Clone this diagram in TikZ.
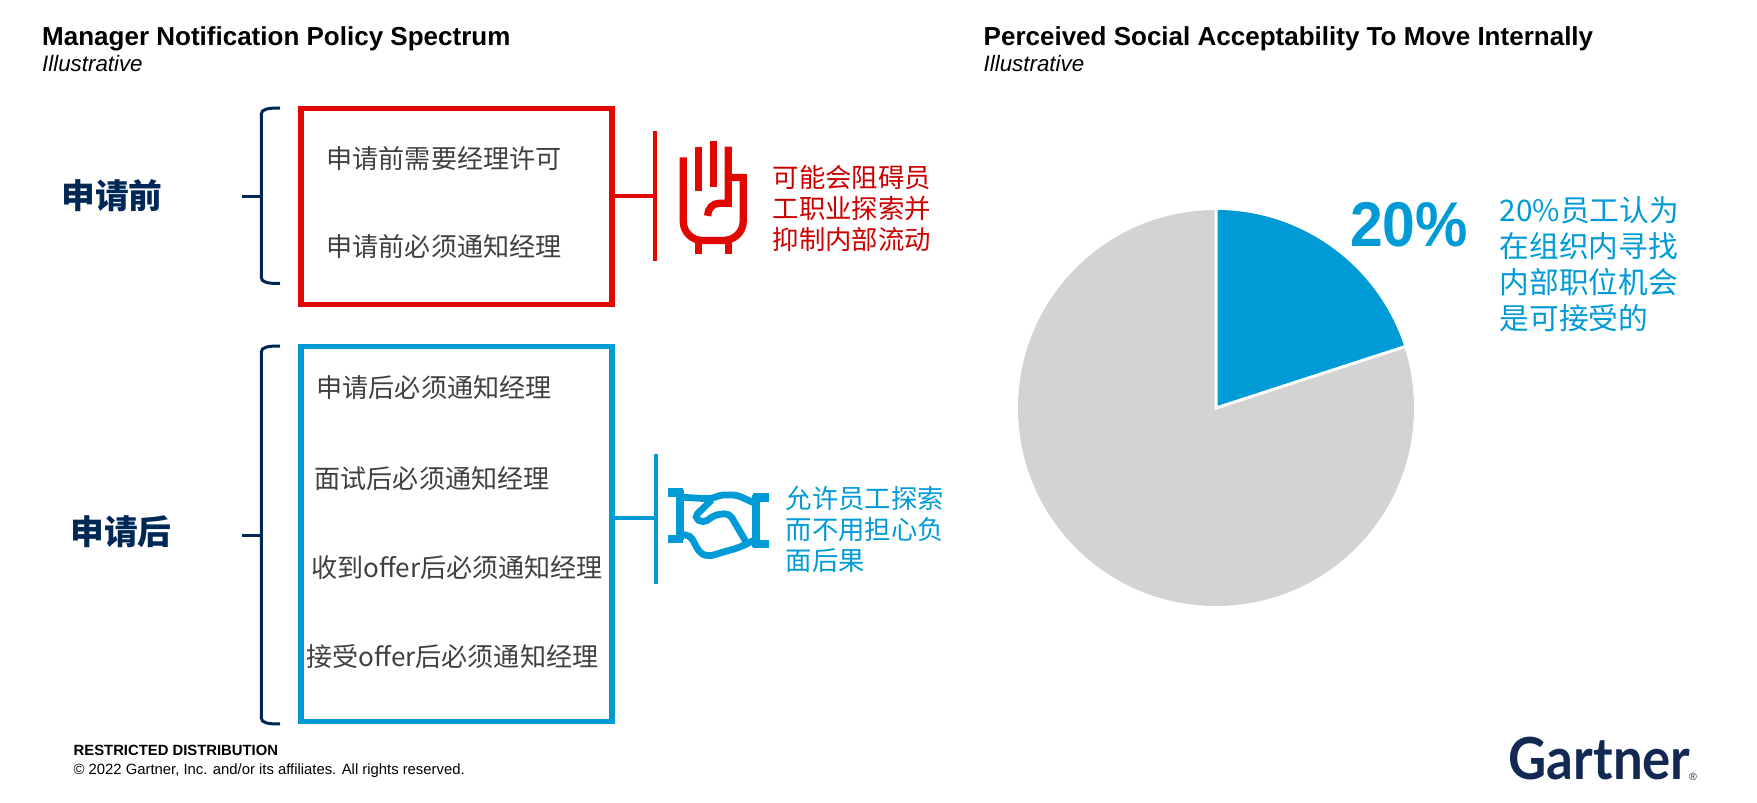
\documentclass[tikz,border=0pt]{standalone}
\usepackage{fontspec}
\setmainfont{Liberation Sans}
\newfontfamily\cjk{Noto Sans CJK SC}
\newfontfamily\logofont{Lato}
\usetikzlibrary{positioning}
\definecolor{navyline}{RGB}{0,40,86}
\definecolor{logonavy}{RGB}{20,40,84}
\definecolor{alertred}{RGB}{224,8,0}
\definecolor{alerttext}{RGB}{204,0,0}
\definecolor{gartblue}{RGB}{0,155,215}
\definecolor{piegray}{RGB}{211,211,211}
\definecolor{itemgray}{RGB}{64,64,64}
\tikzset{
	heading/.style={anchor=west,inner sep=0pt,font=\bfseries\fontsize{7.4}{9}\selectfont},
	subheading/.style={anchor=west,inner sep=0pt,font=\itshape\fontsize{6.35}{7}\selectfont},
	phase/.style={text=navyline,inner sep=0pt,font=\cjk\bfseries\fontsize{9.6}{11}\selectfont},
	itemtext/.style={anchor=west,inner sep=0pt,text=itemgray,font=\cjk\fontsize{7.42}{9}\selectfont},
	sidetext/.style={anchor=west,inner sep=0pt,align=left,font=\cjk\fontsize{7.5}{8.8}\selectfont},
	policybox/.style={draw,line width=0.053cm,minimum width=3.11cm,inner sep=0pt},
	link/.style={line width=0.045cm},
	bracket/.style={navyline,line width=0.03cm},
	footnote/.style={anchor=west,inner sep=0pt,font=\fontsize{4.22}{5}\selectfont},
}
\begin{document}
\begin{tikzpicture}
	\useasboundingbox (0,0) rectangle (17.57,8.02);

	% Titles
	\node[heading] (titleleft) at (0.415,7.63) {Manager Notification Policy Spectrum};
	\node[subheading] (subleft) at (0.415,7.38) {Illustrative};
	\node[heading] (titleright) at (9.83,7.63) {Perceived Social Acceptability To Move Internally};
	\node[subheading] (subright) at (9.83,7.38) {Illustrative};

	% Phases
	\node[phase] (prephase) at (1.12,6.06) {申请前};
	\node[phase] (postphase) at (1.21,2.70) {申请后};

	% Brackets
	\foreach \top/\mid/\bot in {6.94/6.053/5.185, 4.56/2.66/0.78} {
		\draw[bracket] (2.80,\top) .. controls (2.68,\top) and (2.613,\top-0.01) .. (2.613,\top-0.06)
			-- (2.613,\bot+0.06) .. controls (2.613,\bot+0.01) and (2.68,\bot) .. (2.80,\bot);
		\draw[bracket] (2.42,\mid) -- (2.613,\mid);
	}

	% Policy boxes
	\node[policybox,alertred,minimum height=1.96cm] (prebox) at (4.565,5.954) {};
	\node[policybox,gartblue,minimum height=3.75cm] (postbox) at (4.565,2.68) {};

	\node[itemtext] (preone) at (3.26,6.43) {申请前需要经理许可};
	\node[itemtext] (pretwo) at (3.26,5.555) {申请前必须通知经理};
	\node[itemtext] (postone) at (3.16,4.14) {申请后必须通知经理};
	\node[itemtext] (posttwo) at (3.14,3.235) {面试后必须通知经理};
	\node[itemtext] (postthree) at (3.105,2.34) {收到offer后必须通知经理};
	\node[itemtext] (postfour) at (3.06,1.45) {接受offer后必须通知经理};

	% Connectors
	\coordinate (prebartop) at (6.55,6.71);
	\coordinate (prebarbot) at (6.55,5.41);
	\coordinate (prejoin) at (6.55,6.06);
	\draw[link,alertred] (prebartop) -- (prebarbot);
	\draw[link,alertred] (prebox.east |- prejoin) -- (prejoin);

	\coordinate (postbartop) at (6.56,3.48);
	\coordinate (postbarbot) at (6.56,2.18);
	\coordinate (postjoin) at (6.56,2.84);
	\draw[link,gartblue] (postbartop) -- (postbarbot);
	\draw[link,gartblue] (postbox.east |- postjoin) -- (postjoin);

	% Hand icon
	\begin{scope}[shift={(6.4,6.92)},x=0.0333mm,y=-0.0333mm,alertred,line width=0.073cm]
		\draw (175,110) -- (175,242);
		\draw (220,92) -- (220,230);
		\draw (265,110) -- (265,280) -- (238,280) arc (270:180:35 and 38);
		\draw (130,142) -- (130,335) arc (180:90:58 and 57) -- (250,392) arc (90:0:60 and 57) -- (310,203) -- (265,203);
		\draw (175,392) -- (175,432);
		\draw (265,392) -- (265,432);
	\end{scope}

	% Handshake icon
	\begin{scope}[shift={(6.4,3.62)},x=0.0333mm,y=-0.0333mm,gartblue,line width=0.068cm,rounded corners=0.05cm]
		\draw[line width=0.085cm,sharp corners] (85,157) -- (130,157);
		\draw[line width=0.085cm,sharp corners] (85,297) -- (130,297);
		\draw[line width=0.08cm,sharp corners] (119,150) -- (119,300);
		\draw[line width=0.085cm,sharp corners] (340,172) -- (387,172);
		\draw[line width=0.085cm,sharp corners] (340,312) -- (387,312);
		\draw[line width=0.075cm,sharp corners] (348,165) -- (348,320);
		\draw (125,172) -- (215,177) -- (240,165) -- (290,165) -- (345,190);
		\draw (215,180) -- (162,232) -- (190,250) -- (225,225) -- (268,220) -- (322,312);
		\draw (125,285) -- (150,285) -- (180,340) -- (205,350) -- (300,322) -- (345,300);
	\end{scope}

	% Side notes
	\node[sidetext,text=alerttext] (prenote) at (7.72,5.935) {可能会阻碍员\\工职业探索并\\抑制内部流动};
	\node[sidetext,text=gartblue] (postnote) at (7.85,2.73) {允许员工探索\\而不用担心负\\面后果};

	% Pie
	\coordinate (piecenter) at (12.16,3.94);
	\fill[piegray] (piecenter) circle (1.98);
	\fill[gartblue] (piecenter) -- ++(90:1.98) arc (90:18:1.98) -- cycle;
	\draw[white,line width=0.03cm] (piecenter) ++(90:1.98) -- (piecenter) -- ++(18:1.98);

	\node[inner sep=0pt,xscale=0.93,text=gartblue,font=\bfseries\fontsize{18}{20}\selectfont] (share) at (14.09,5.77) {20\%};
	\node[anchor=west,inner sep=0pt,align=left,text=gartblue,font=\cjk\fontsize{8.45}{10.2}\selectfont] (sharenote) at (14.99,5.38) {20\%员工认为\\在组织内寻找\\内部职位机会\\是可接受的};

	% Footer
	\node[footnote,font=\bfseries\fontsize{4.22}{5}\selectfont] (restricted) at (0.73,0.52) {RESTRICTED DISTRIBUTION};
	\node[footnote] (copyright) at (0.73,0.31) {© 2022 Gartner, Inc. and/or its affiliates. All rights reserved.};
	\node[anchor=west,inner sep=0pt,xscale=0.91,text=logonavy,font=\logofont\bfseries\fontsize{16.5}{20}\selectfont] (logo) at (15.08,0.43) {Gartner};
	\node[inner sep=0pt,text=logonavy,font=\fontsize{3}{4}\selectfont] (logomark) at (16.93,0.25) {®};
\end{tikzpicture}
\end{document}
